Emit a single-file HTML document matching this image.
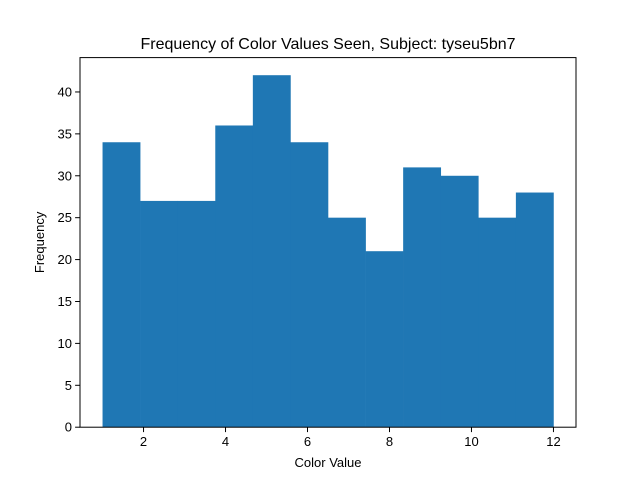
<!DOCTYPE html>
<html><head><meta charset="utf-8"><style>
body{margin:0;background:#fff}
svg text{font-family:"Liberation Sans","DejaVu Sans",sans-serif;fill:#000}
</style></head><body>
<svg id="chart" width="640" height="480">
<rect width="640" height="480" fill="#fff"/>
<text x="328" y="49" font-size="16" text-anchor="middle">Frequency of Color Values Seen, Subject: tyseu5bn7</text>
<g id="bars"></g>
<rect x="80" y="57.6" width="496" height="369.6" fill="none" stroke="#000" stroke-width="1"/>
<g id="xticks"></g><g id="yticks"></g>
<text x="328" y="467" font-size="13" text-anchor="middle">Color Value</text>
<text transform="translate(44,242.4) rotate(-90)" font-size="13" text-anchor="middle">Frequency</text>
</svg>
<script>
const counts=[34,27,27,36,42,34,25,21,31,30,25,28];
const binStart=1, binEnd=12;
const xTicks=[2,4,6,8,10,12];
const yTicks=[0,5,10,15,20,25,30,35,40];
const L=80,R=576,T=57.6,B=427.2;
const xmin=0.45,xmax=12.55,ymax=44.1;
const X=v=>L+(v-xmin)/(xmax-xmin)*(R-L);
const Y=v=>B-v/ymax*(B-T);
const ns="http://www.w3.org/2000/svg";
const w=(binEnd-binStart)/counts.length;
const bars=document.getElementById('bars');
counts.forEach((c,i)=>{
 const r=document.createElementNS(ns,'rect');
 const x0=X(binStart+i*w),x1=X(binStart+(i+1)*w);
 r.setAttribute('x',x0);r.setAttribute('width',x1-x0+0.3);
 r.setAttribute('y',Y(c));r.setAttribute('height',Y(0)-Y(c));
 r.setAttribute('fill','#1f77b4');
 
 
 bars.appendChild(r);
});
const xt=document.getElementById('xticks');
xTicks.forEach(t=>{
 const l=document.createElementNS(ns,'line');
 l.setAttribute('x1',X(t));l.setAttribute('x2',X(t));l.setAttribute('y1',B);l.setAttribute('y2',B+4.9);l.setAttribute('stroke','#000');
 
 
 xt.appendChild(l);
 const s=document.createElementNS(ns,'text');
 s.setAttribute('x',X(t));s.setAttribute('y',B+19);s.setAttribute('font-size','13');s.setAttribute('text-anchor','middle');s.textContent=t;
 
 
 xt.appendChild(s);
});
const yt=document.getElementById('yticks');
yTicks.forEach(t=>{
 const l=document.createElementNS(ns,'line');
 l.setAttribute('x1',L-4.9);l.setAttribute('x2',L);l.setAttribute('y1',Y(t));l.setAttribute('y2',Y(t));l.setAttribute('stroke','#000');
 
 
 yt.appendChild(l);
 const s=document.createElementNS(ns,'text');
 s.setAttribute('x',L-8);s.setAttribute('y',Y(t)+4.5);s.setAttribute('font-size','13');s.setAttribute('text-anchor','end');s.textContent=t;
 
 
 yt.appendChild(s);
});
</script>
</body></html>
